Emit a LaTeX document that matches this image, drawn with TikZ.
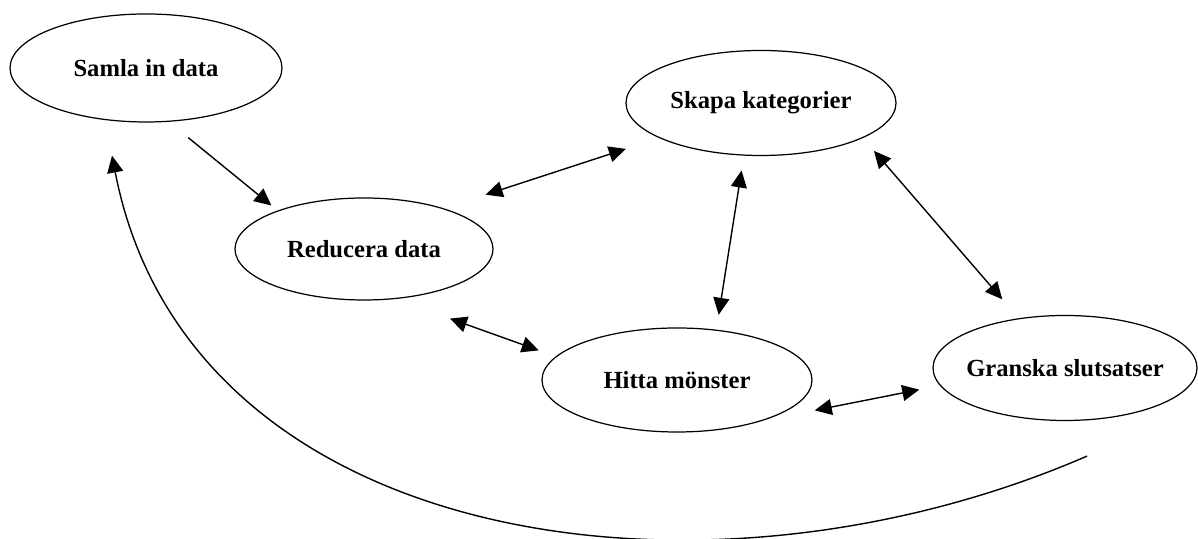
\documentclass[tikz,border=0pt]{standalone}
\usepackage{fontspec}
\setmainfont{Liberation Serif}
\usetikzlibrary{shapes.geometric,arrows.meta}
\begin{document}
\begin{tikzpicture}[
        line width=0.7pt,
        font=\bfseries\fontsize{14}{16}\selectfont
    ]
    \tikzset{
        phasenode/.style = {ellipse, draw=black, align=center, inner sep=0pt, minimum height=2.1cm},
        linkarrow/.style = {line width=0.8pt, -{Triangle[length=0.34cm,width=0.32cm]}},
        bothways/.style = {line width=0.8pt, {Triangle[length=0.34cm,width=0.32cm]}-{Triangle[length=0.34cm,width=0.32cm]}},
    }
    \useasboundingbox (0,0) rectangle (23.96,10.78);
    \node[phasenode,minimum width=5.44cm,minimum height=2.16cm] at (2.92,9.42) (samla) {Samla in data};
    \node[phasenode,minimum width=5.40cm] at (15.22,8.72) (skapa) {Skapa kategorier};
    \node[phasenode,minimum width=5.16cm,minimum height=2.04cm] at (7.28,5.80) (reducera) {Reducera data};
    \node[phasenode,minimum width=5.40cm,minimum height=2.08cm] at (13.54,3.18) (hitta) {Hitta mönster};
    \node[phasenode,minimum width=5.28cm,inner xsep=-0.3cm] at (21.30,3.42) (granska) {Granska slutsatser};
    \draw[linkarrow,shorten <=0.5cm,shorten >=0.16cm] (samla.293) -- (reducera.156);
    \draw[bothways,shorten <=0.88cm,shorten >=0.7cm] (reducera.27) -- (skapa.199);
    \draw[bothways,shorten <=0.3cm,shorten >=0.3cm] (skapa.252) -- (hitta.52);
    \draw[bothways,shorten <=0.34cm,shorten >=0.5cm] (skapa.341) -- (granska.133);
    \draw[bothways,shorten <=1.16cm,shorten >=0.36cm] (reducera.302) -- (hitta.169);
    \draw[bothways,shorten <=1.04cm,shorten >=0.42cm] (hitta.335) -- (granska.188);
    \coordinate (loopstart) at ([xshift=0.44cm,yshift=-0.7cm]granska.south);
    \coordinate (loopend) at ([xshift=-0.68cm,yshift=-0.66cm]samla.south);
    \draw[linkarrow] (loopstart) .. controls +(-7.7,-3.34) and +(1.52,-7.84) .. (loopend);
\end{tikzpicture}
\end{document}
